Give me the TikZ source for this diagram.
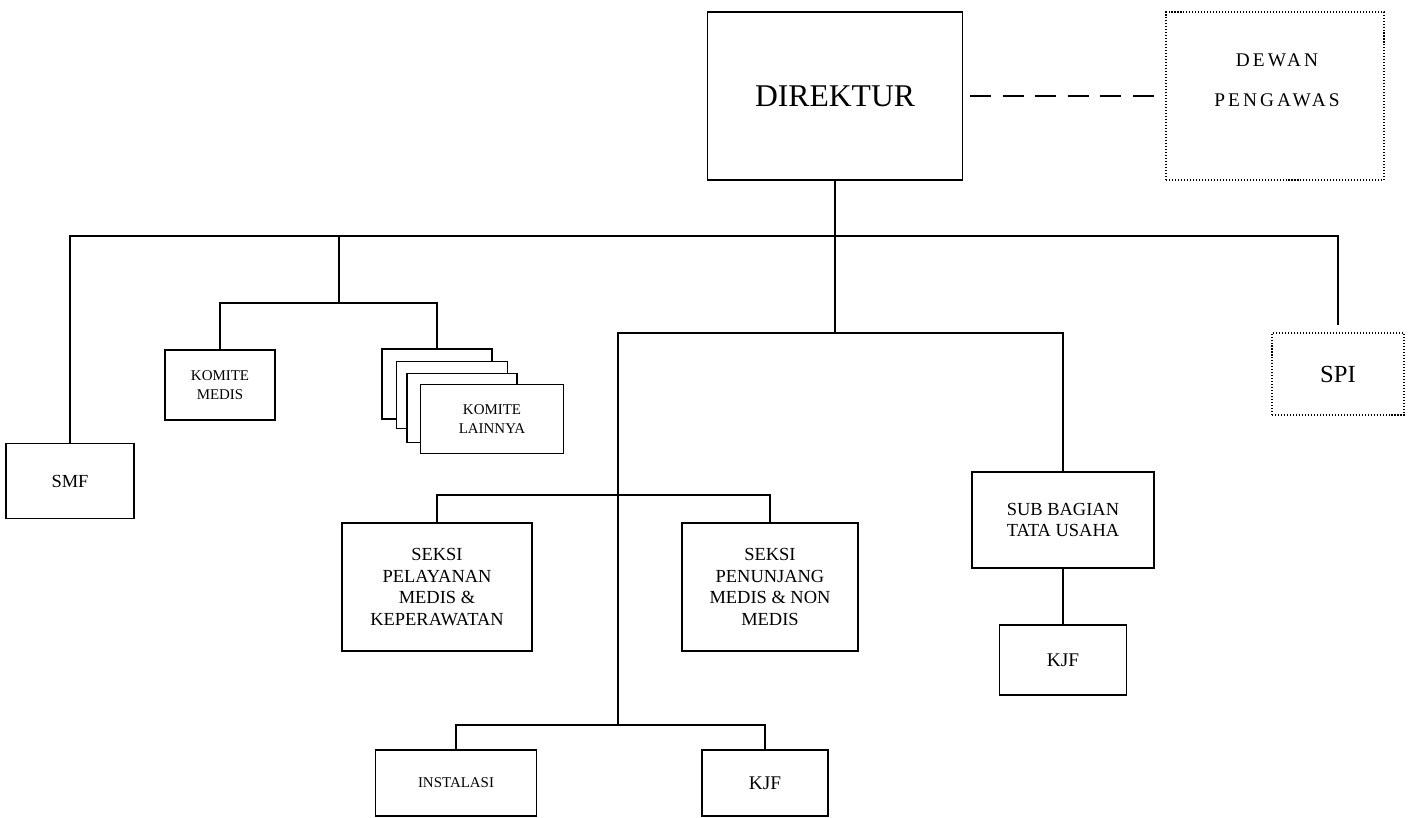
\documentclass[tikz,border=0pt]{standalone}
\usepackage{fontspec}
\setmainfont{Liberation Serif}
\newfontfamily\spacedfont[LetterSpace=16]{Liberation Serif}

\begin{document}
\begin{tikzpicture}[
x=0.02cm, y=-0.02cm,
box/.style={
draw,
line width=1pt,
align=center,
inner sep=0pt,
fill=white,
font=\fontsize{10.5}{12.3}\selectfont
},
smallbox/.style={box, font=\fontsize{8.5}{10.6}\selectfont},
dotbox/.style={box, line width=0.8pt, dash pattern=on 0.6pt off 1.1pt},
line/.style={line width=0.8pt},
dashline/.style={line width=1pt, dash pattern=on 12pt off 6.5pt, shorten <=4pt}
]
\useasboundingbox (0,0) rectangle (1411,818);

% top level
\node[box, minimum width=5.1cm, minimum height=3.36cm,
font=\fontsize{18}{21}\selectfont] (direktur) at (835,96) {DIREKTUR};
\node[dotbox, minimum width=4.36cm, minimum height=3.36cm] (dewan) at (1275,96) {};
\node[font=\spacedfont\fontsize{11}{23}\selectfont, align=center] (dewantext)
at (1277,80) {DEWAN\\PENGAWAS};

% first row
\node[box, minimum width=2.56cm, minimum height=1.5cm] (smf) at (70,481) {SMF};
\node[smallbox, minimum width=2.2cm, minimum height=1.4cm] (komitemedis)
at (220,385) {KOMITE\\MEDIS};
\node[box, minimum width=2.2cm, minimum height=1.4cm] (komite1) at (437,384) {};
\node[box, minimum width=2.22cm, minimum height=1.34cm] (komite2) at (452,395) {};
\node[box, minimum width=2.2cm, minimum height=1.38cm] (komite3) at (462,408) {};
\node[smallbox, minimum width=2.86cm, minimum height=1.38cm] (komite4)
at (492,419) {KOMITE\\LAINNYA};
\node[dotbox, minimum width=2.64cm, minimum height=1.64cm,
font=\fontsize{14}{16}\selectfont] (spi) at (1338,374) {SPI};

% seksi and sub bagian
\node[box, minimum width=3.8cm, minimum height=2.56cm] (pelayanan)
at (437,587) {SEKSI\\PELAYANAN\\MEDIS \&\\KEPERAWATAN};
\node[box, minimum width=3.52cm, minimum height=2.56cm] (penunjang)
at (770,587) {SEKSI\\PENUNJANG\\MEDIS \& NON\\MEDIS};
\node[box, minimum width=3.64cm, minimum height=1.92cm] (subbag)
at (1063,520) {SUB BAGIAN\\TATA USAHA};
\node[box, minimum width=2.54cm, minimum height=1.4cm,
font=\fontsize{11}{13}\selectfont] (kjfkanan) at (1063,660) {KJF};

% bottom row
\node[smallbox, minimum width=3.22cm, minimum height=1.32cm] (instalasi)
at (456,783) {INSTALASI};
\node[box, minimum width=2.52cm, minimum height=1.32cm,
font=\fontsize{11}{13}\selectfont] (kjfbawah) at (765,783) {KJF};

% junctions
\coordinate (mainbus) at (835,236);
\coordinate (komitejoint) at (339,236);
\coordinate (komitebus) at (339,303);
\coordinate (subbus) at (835,333);
\coordinate (seksibus) at (618,495);
\coordinate (instbus) at (618,725);

\draw[dashline] (direktur) -- (dewan);
\draw[line] (direktur) -- (mainbus);
\draw[line, shorten >=4pt] (smf) |- (mainbus) -| (spi);
\draw[line] (komitejoint) -- (komitebus);
\draw[line] (komitemedis) |- (komitebus) -| (komite1);
\draw[line] (mainbus) -- (subbus);
\draw[line] (instbus) |- (subbus) -| (subbag);
\draw[line] (pelayanan) |- (seksibus) -| (penunjang);
\draw[line] (instalasi) |- (instbus) -| (kjfbawah);
\draw[line] (subbag) -- (kjfkanan);
\end{tikzpicture}
\end{document}
